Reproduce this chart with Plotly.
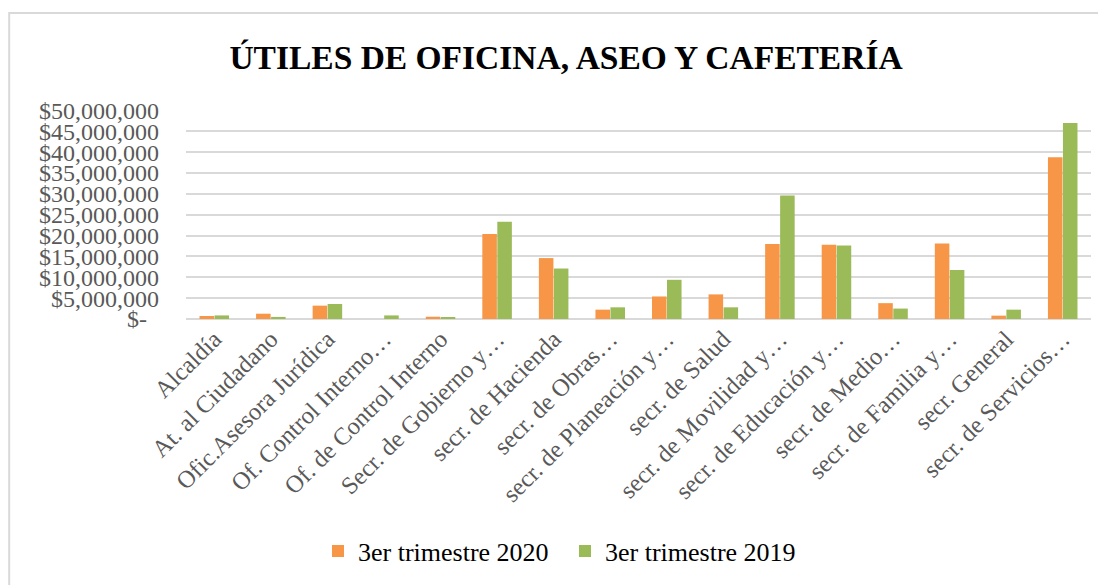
import plotly.graph_objects as go

categories = ["Alcaldía", "At. al Ciudadano", "Ofic.Asesora Jurídica", "Of. Control Interno…",
              "Of. de Control Interno", "Secr. de Gobierno y…", "secr. de Hacienda", "secr. de Obras…",
              "secr. de Planeación y…", "secr. de Salud", "secr. de Movilidad y…", "secr. de Educación y…",
              "secr. de Medio…", "secr. de Familia y…", "secr. General", "secr. de Servicios…"]
q3_2020 = [720000, 1270000, 3200000, 0, 550000, 20400000, 14600000, 2240000,
           5400000, 5900000, 18000000, 17800000, 3800000, 18100000, 800000, 38800000]
q3_2019 = [860000, 500000, 3600000, 860000, 400000, 23300000, 12100000, 2800000,
           9400000, 2800000, 29600000, 17600000, 2500000, 11750000, 2240000, 47000000]
tick_vals = [0, 5e6, 10e6, 15e6, 20e6, 25e6, 30e6, 35e6, 40e6, 45e6, 50e6]
tick_text = ["$-  ", "$5,000,000", "$10,000,000", "$15,000,000", "$20,000,000", "$25,000,000",
             "$30,000,000", "$35,000,000", "$40,000,000", "$45,000,000", "$50,000,000"]
series_names = ["3er trimestre 2020", "3er trimestre 2019"]

W, H = 1106, 585
OFF = 8  # page body margin offset
L, T = 186 - OFF, 110 - OFF
R = W - (1091 - OFF)
B = H - (319 - OFF)
pw, ph = W - L - R, H - T - B

fig = go.Figure()
fig.add_trace(go.Bar(x=categories, y=q3_2020, name=series_names[0], marker_color="#F79646",
                     marker_line=dict(width=0)))
fig.add_trace(go.Bar(x=categories, y=q3_2019, name=series_names[1], marker_color="#9BBB59",
                     marker_line=dict(width=0)))

serif = "Liberation Serif, DejaVu Serif, serif"
fig.update_layout(
    width=W, height=H,
    margin=dict(l=L, r=R, t=T, b=B, autoexpand=False),
    paper_bgcolor="white", plot_bgcolor="white",
    barmode="group", bargap=0.47, bargroupgap=0.03,
    title=dict(text="<b>ÚTILES DE OFICINA, ASEO Y CAFETERÍA</b>",
               font=dict(family=serif, size=33.5, color="black"),
               x=(566 - OFF) / W, xanchor="center", xref="container",
               y=1 - (57 - OFF) / H, yanchor="middle", yref="container"),
    legend=dict(orientation="h", x=310 / W, xanchor="left", xref="container",
                y=1 - (551 - OFF) / H, yanchor="middle", yref="container",
                font=dict(family=serif, size=26, color="black"),
                entrywidth=202, entrywidthmode="pixels", tracegroupgap=0),
    showlegend=True,
    shapes=[dict(type="rect", xref="paper", yref="paper",
                 x0=(1.2 - L) / pw, x1=(W + 5 - L) / pw,
                 y0=-(H + 5 - (T + ph)) / ph, y1=1 + (T - (13 - OFF)) / ph,
                 line=dict(color="#d9d9d9", width=2), fillcolor="rgba(0,0,0,0)", layer="below")],
)
fig.update_yaxes(range=[0, 50.1e6], tickvals=tick_vals, ticktext=tick_text, automargin=False,
                 showgrid=True, gridcolor="#d9d9d9", gridwidth=1.5,
                 zeroline=True, zerolinecolor="#d9d9d9", zerolinewidth=1.5,
                 showline=False, ticks="", ticklabelstandoff=26,
                 tickfont=dict(family=serif, size=24, color="#595959"))
fig.update_xaxes(tickangle=-45, showline=False, ticks="", showgrid=False, automargin=False,
                 tickfont=dict(family=serif, size=24.5, color="#595959"))

fig.write_html("out.html")
